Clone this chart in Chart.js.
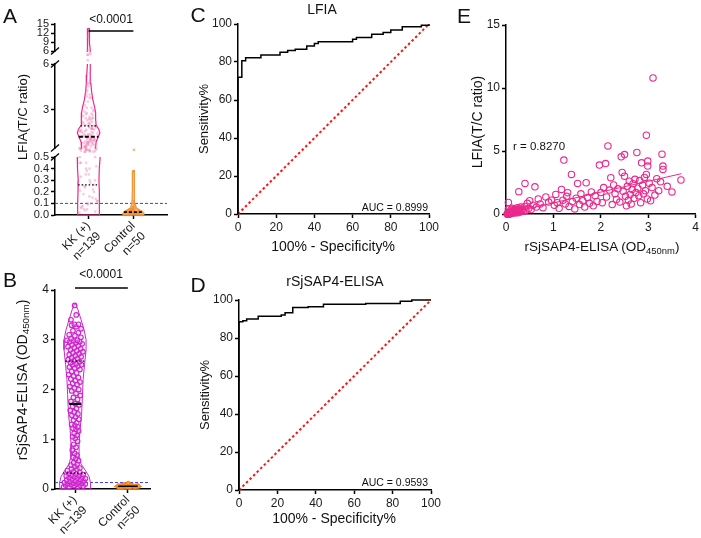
<!DOCTYPE html>
<html>
<head>
<meta charset="utf-8">
<script src="https://cdn.jsdelivr.net/npm/chart.js@4.4.1/dist/chart.umd.min.js"></script>
<style>
  body { margin: 0; background: #fff; font-family: "Liberation Sans", Arial, sans-serif; color: #111; }
  #fig { position: relative; width: 701px; height: 538px; overflow: hidden; background: #fff; }
  #fig canvas { position: absolute; left: 0; top: 0; }
  .c { position: absolute; transform: translate(-50%, -50%); white-space: nowrap; line-height: 1; }
  .v { position: absolute; transform: translate(-50%, -50%) rotate(-90deg); white-space: nowrap; line-height: 1; }
  .r { position: absolute; transform: translate(-100%, -50%); white-space: nowrap; line-height: 1; }
  sub { font-size: 0.7em; vertical-align: -0.25em; line-height: 0; }
</style>
</head>
<body>
<div id="fig">
  <canvas id="aTop" width="701" height="538"></canvas>
  <canvas id="aMid" width="701" height="538"></canvas>
  <canvas id="aLow" width="701" height="538"></canvas>
  <canvas id="bChart" width="701" height="538"></canvas>
  <canvas id="cChart" width="701" height="538"></canvas>
  <canvas id="dChart" width="701" height="538"></canvas>
  <canvas id="eChart" width="701" height="538"></canvas>

  <div class="c" style="left:10px;top:15px;font-size:21px">A</div>
  <div class="c" style="left:10px;top:279px;font-size:21px">B</div>
  <div class="c" style="left:198px;top:14px;font-size:21px">C</div>
  <div class="c" style="left:198px;top:284px;font-size:21px">D</div>
  <div class="c" style="left:464px;top:15px;font-size:21px">E</div>

  <div class="c" style="left:111px;top:19px;font-size:12px">&lt;0.0001</div>
  <div class="c" style="left:101px;top:274px;font-size:12px">&lt;0.0001</div>
  <div class="v" style="left:22px;top:117px;font-size:13px">LFIA(T/C ratio)</div>
  <div class="v" style="left:22px;top:380px;font-size:14px">rSjSAP4-ELISA (OD<sub>450nm</sub>)</div>

  <div class="c" style="left:322px;top:9px;font-size:14px">LFIA</div>
  <div class="v" style="left:203px;top:119px;font-size:13px">Sensitivity%</div>
  <div class="c" style="left:333px;top:246px;font-size:14px">100% - Specificity%</div>
  <div class="r" style="left:428px;top:207px;font-size:10.5px">AUC = 0.8999</div>

  <div class="c" style="left:335px;top:281px;font-size:14px">rSjSAP4-ELISA</div>
  <div class="v" style="left:204px;top:395px;font-size:13px">Sensitivity%</div>
  <div class="c" style="left:334px;top:518px;font-size:14px">100% - Specificity%</div>
  <div class="r" style="left:428px;top:482px;font-size:10.5px">AUC = 0.9593</div>

  <div class="v" style="left:477px;top:122px;font-size:14px">LFIA(T/C ratio)</div>
  <div class="c" style="left:602px;top:247px;font-size:13.5px">rSjSAP4-ELISA (OD<sub>450nm</sub>)</div>
  <div style="position:absolute;left:513px;top:141px;font-size:11.5px;line-height:1;white-space:nowrap">r = 0.8270</div>
</div>

<script>
// ---- data ----
const groups = [['KK (+)', 'n=139'], ['Control', 'n=50']];

// paired values, KK(+) patients (ELISA OD450 / LFIA T/C ratio)
const kkElisa = [
  0.04,0.05,0.05,0.06,0.07,0.08,0.08,0.09,0.10,0.10,0.11,0.12,0.12,0.13,0.14,0.15,0.16,0.17,0.18,0.19,
  0.20,0.21,0.22,0.23,0.24,0.25,0.26,0.27,0.28,0.29,0.30,0.31,0.33,0.35,0.37,
  0.40,0.40,0.42,0.45,0.48,0.50,0.53,0.57,0.61,0.64,0.68,0.72,0.78,0.84,0.90,0.96,
  1.02,1.05,1.08,1.12,1.17,1.20,1.22,1.25,1.28,1.30,1.33,1.38,1.40,1.45,1.48,1.51,1.55,1.58,1.62,1.66,
  1.69,1.72,1.76,1.80,1.84,1.88,1.92,1.97,2.00,2.03,2.06,2.10,2.12,2.15,2.18,2.21,2.24,2.27,2.30,2.33,
  2.36,2.40,2.43,2.45,2.47,2.50,2.50,2.52,2.54,2.56,2.58,2.60,2.62,2.64,2.66,2.68,2.70,2.72,2.74,2.76,
  2.78,2.80,2.82,2.84,2.86,2.88,2.90,2.92,2.94,2.96,2.96,2.98,2.99,2.99,3.02,3.05,3.08,3.10,3.14,3.18,
  3.22,3.26,3.29,3.31,3.31,3.40,3.50,3.69
];
const kkLfia = [
  0.02,0.92,0.05,0.03,0.10,0.06,0.15,0.04,0.12,0.30,0.08,0.20,0.05,0.45,0.10,0.25,0.14,0.35,0.07,0.22,
  0.40,0.12,0.28,0.18,0.50,0.09,0.33,1.77,0.24,0.42,0.16,0.55,0.26,0.38,0.21,
  2.43,0.60,0.30,0.85,0.45,1.05,0.35,0.70,2.16,0.55,1.20,0.80,0.50,1.35,0.95,1.10,
  0.70,1.55,0.90,0.45,1.95,1.10,4.28,0.80,1.40,1.69,0.60,3.14,1.00,0.40,1.25,2.43,0.75,1.60,1.05,0.55,
  2.48,1.30,0.85,1.75,0.65,1.45,1.00,3.88,1.70,0.90,2.10,4.00,1.35,5.40,1.90,2.88,0.75,2.30,1.60,1.15,
  2.00,0.95,4.54,3.30,1.80,4.72,3.00,1.40,0.65,2.20,1.10,2.60,1.55,0.80,1.95,2.40,1.25,2.75,1.70,4.88,
  2.05,1.45,2.65,0.90,4.06,2.30,1.60,2.90,1.85,6.25,3.14,1.20,4.20,3.80,2.45,1.05,2.10,10.8,1.50,2.80,
  1.85,2.55,4.75,3.80,3.54,2.20,1.75,2.70
];
// paired values, controls
const ctrlElisa = [
  0.03,0.04,0.05,0.05,0.06,0.04,0.07,0.05,0.06,0.08,0.03,0.05,0.06,0.04,0.07,0.09,0.05,0.06,0.04,0.05,
  0.06,0.07,0.05,0.08,0.04,0.06,0.05,0.10,0.05,0.06,0.04,0.07,0.05,0.06,0.03,0.05,0.08,0.06,0.04,0.05,
  0.07,0.06,0.05,0.04,0.09,0.06,0.05,0.07,0.12,0.06
];
const ctrlLfia = [
  0.01,0.02,0.00,0.03,0.01,0.05,0.02,0.04,0.00,0.03,0.02,0.06,0.01,0.03,0.02,0.04,0.38,0.01,0.05,0.02,
  0.03,0.00,0.04,0.02,0.01,0.06,0.03,0.08,0.02,0.04,0.01,0.03,0.02,0.05,0.00,0.12,0.02,0.03,0.01,0.04,
  0.02,0.07,0.03,0.01,0.05,0.02,0.04,0.03,0.10,0.02
];

// violin outlines (relative density at each level)
const aKkLowLevels  = [0, 0.1, 0.2, 0.3, 0.4, 0.5, 0.6];
const aKkLowDens    = [0.95, 0.95, 0.92, 0.90, 0.93, 1.0, 1.0];
const aKkHighLevels = [0.4, 0.5, 0.9, 1.2, 1.5, 1.75, 2.0, 2.4, 2.8, 3.2, 3.65, 4.2, 4.7, 5.3, 6, 8, 10, 12, 13.5];
const aKkHighDens   = [0.61, 0.61, 0.65, 0.83, 0.98, 0.87, 0.65, 0.61, 0.61, 0.52, 0.37, 0.26, 0.20, 0.16, 0.13, 0.10, 0.09, 0.08, 0.06];
const aCtrlLevels   = [0, 0.015, 0.03, 0.045, 0.06, 0.1, 0.2, 0.3, 0.38];
const aCtrlDens     = [1.0, 1.0, 0.86, 0.57, 0.29, 0.14, 0.11, 0.10, 0.08];
const bKkLevels     = [0, 0.12, 0.25, 0.38, 0.5, 0.65, 0.9, 1.2, 1.5, 1.9, 2.2, 2.5, 2.8, 3.0, 3.2, 3.4, 3.6, 3.72];
const bKkDens       = [0.97, 1.0, 0.90, 0.65, 0.39, 0.26, 0.26, 0.32, 0.42, 0.48, 0.52, 0.61, 0.71, 0.71, 0.58, 0.39, 0.19, 0.03];
const bCtrlLevels   = [0.015, 0.03, 0.05, 0.07, 0.1, 0.125];
const bCtrlDens     = [0, 0.71, 1.0, 0.86, 0.36, 0];

// quartiles (Q1, median, Q3) and cut-offs
const aKkQuart = [0.26, 1.24, 1.95];
const aCtrlMedian = 0.025;
const bKkQuart = [0.32, 1.71, 2.57];
const bCtrlMedian = 0.055;
const aCutoff = 0.1;
const bCutoff = 0.13;

// tick values
const aTopTicks = [6, 9, 12, 15];
const aMidTicks = [3, 6];
const aLowTicks = [0, 0.1, 0.2, 0.3, 0.4, 0.5];

// ROC curves (100% - specificity, sensitivity)
const rocCSpec = [0, 0, 2, 4, 12, 22, 26, 30, 36, 40, 42, 60, 62, 70, 76, 80, 86, 96, 100];
const rocCSens = [0, 72, 80.6, 82.2, 83.7, 85.1, 86.0, 86.7, 88.4, 89.8, 90.7, 92.0, 92.9, 94.6, 95.5, 96.8, 98.6, 99.3, 100];
const rocDSpec = [0, 0, 2, 4, 10, 22, 24, 28, 36, 44, 66, 84, 90, 100];
const rocDSens = [0, 88.6, 89.1, 90.0, 91.4, 92.1, 93.3, 96.0, 96.5, 97.7, 98.2, 99.4, 100, 100];
const chanceLine = [0, 100];

// linear fit in E
const regX = [0.03, 3.7];
const regY = [0.05, 3.2];

// ---- drawing ----
const W = 701, H = 538;
const PINK = 'rgb(236,40,140)';
const MAGENTA = 'rgb(205,35,205)';
const ORANGE = 'rgb(245,150,55)';
const BLUE = 'rgb(60,60,250)';
Chart.defaults.font.family = '"Liberation Sans", Arial, sans-serif';

function interp(levels, dens, v) {
  if (v <= levels[0]) return dens[0];
  for (let i = 1; i < levels.length; i++) {
    if (v <= levels[i]) {
      const t = (v - levels[i - 1]) / (levels[i] - levels[i - 1]);
      return dens[i - 1] + t * (dens[i] - dens[i - 1]);
    }
  }
  return dens[dens.length - 1];
}

function violin(cx, levels, dens, w) {
  const right = levels.map((y, i) => ({x: cx + dens[i] * w, y}));
  const left = levels.map((y, i) => ({x: cx - dens[i] * w, y})).reverse();
  return right.concat(left, [right[0]]);
}

function swarm(cx, values, halfAt, spread) {
  return values.map((v, i) => {
    const f = ((i * 0.6180339) % 1) * 2 - 1;
    return {x: cx + f * halfAt(v) * spread, y: v};
  });
}

const hline = (y, x0, x1) => [{x: x0, y}, {x: x1, y}];
const pairs = (xs, ys) => xs.map((x, i) => ({x, y: ys[i]}));

function line(data, color, width, dash, more) {
  return Object.assign({data, showLine: true, borderColor: color, borderWidth: width,
    borderDash: dash || [], pointRadius: 0, fill: false, clip: 0}, more || {});
}
function dots(data, more) {
  return Object.assign({data, showLine: false, clip: false}, more);
}

function axis(extra) {
  const base = {
    border: {display: true, color: '#000', width: 1.5},
    grid: {display: true, drawOnChartArea: false, drawTicks: true, tickLength: 4, tickWidth: 1.5, tickColor: '#000'},
    ticks: {color: '#1a1a1a', font: {size: 12}, padding: 2, autoSkip: false, maxRotation: 0}
  };
  return Object.assign({}, base, extra, {
    ticks: Object.assign({}, base.ticks, extra.ticks || {}),
    grid: Object.assign({}, base.grid, extra.grid || {})
  });
}

function panel(id, box, xOpt, yOpt, datasets, plugins) {
  const YW = 40, XH = box.xh || 30;
  const xShown = xOpt.display !== false;
  const x = axis(xOpt), y = axis(yOpt);
  if (xShown) x.afterFit = s => { s.height = XH; };
  y.afterFit = s => { s.width = YW; };
  return new Chart(document.getElementById(id), {
    type: 'scatter',
    data: {datasets},
    options: {
      responsive: false, animation: false, events: [],
      layout: {padding: {left: box.l - YW, right: W - box.r, top: box.t, bottom: H - box.b - (xShown ? XH : 0)}},
      plugins: {legend: {display: false}, tooltip: {enabled: false}},
      scales: {x, y}
    },
    plugins: plugins || []
  });
}

const breakMarks = (top, bottom) => ({
  id: 'breakMarks',
  afterDraw(c) {
    const {ctx, chartArea: a} = c;
    ctx.save();
    ctx.strokeStyle = '#000';
    ctx.lineWidth = 1.3;
    const mark = y => { ctx.beginPath(); ctx.moveTo(a.left - 4, y + 3.5); ctx.lineTo(a.left + 4, y - 3.5); ctx.stroke(); };
    if (top) mark(a.top);
    if (bottom) mark(a.bottom);
    ctx.restore();
  }
});

const sigBar = dy => ({
  id: 'sigBar',
  afterDraw(c) {
    const {ctx, chartArea: a, scales} = c;
    ctx.save();
    ctx.strokeStyle = '#000';
    ctx.lineWidth = 1.5;
    ctx.beginPath();
    ctx.moveTo(scales.x.getPixelForValue(1), a.top + dy);
    ctx.lineTo(scales.x.getPixelForValue(2), a.top + dy);
    ctx.stroke();
    ctx.restore();
  }
});

const catTicks = s => { s.ticks = [{value: 1}, {value: 2}]; };
const catLabel = (v, i) => groups[i];

// ---- panel A: LFIA, broken y axis in three segments ----
const A_MIN = 0.25, A_MAX = 2.75, A_KK_W = 0.257, A_CTRL_W = 0.234;
const aKkHalf = v => (v <= 0.5 ? interp(aKkLowLevels, aKkLowDens, v) : interp(aKkHighLevels, aKkHighDens, v)) * A_KK_W;
const aCtrlHalf = v => interp(aCtrlLevels, aCtrlDens, v) * A_CTRL_W;
const segClip = {left: 10, right: 10, top: 0, bottom: 1};
const aTickFont = {size: 11};

function aSets(seg) {
  const sets = [];
  aKkQuart.forEach((q, i) => {
    const w = aKkHalf(q);
    sets.push(line(hline(q, 1 - w, 1 + w), '#000', i === 1 ? 2 : 1.3, i === 1 ? [4, 2] : [1.5, 2], {clip: segClip}));
  });
  const cw = aCtrlHalf(aCtrlMedian);
  sets.push(line(hline(aCtrlMedian, 2 - cw, 2 + cw), '#000', 1.6, [3, 2], {clip: segClip}));
  sets.push(dots(swarm(1, kkLfia, aKkHalf, 0.85), {pointStyle: 'rect', pointRadius: 1.7, pointBorderWidth: 0, pointBackgroundColor: 'rgba(240,120,175,0.4)'}));
  sets.push(dots(swarm(2, ctrlLfia, aCtrlHalf, 0.8), {pointStyle: 'rect', pointRadius: 1.7, pointBorderWidth: 0, pointBackgroundColor: 'rgba(240,140,50,0.6)'}));
  if (seg === 'low') {
    sets.push(line(violin(1, aKkLowLevels, aKkLowDens, A_KK_W), PINK, 1.2, [], {clip: segClip}));
  } else {
    sets.push(line(violin(1, aKkHighLevels, aKkHighDens, A_KK_W), PINK, 1.2, [], {clip: segClip}));
  }
  sets.push(line(violin(2, aCtrlLevels, aCtrlDens, A_CTRL_W), ORANGE, 1.2, [], {clip: segClip, fill: 'shape', backgroundColor: 'rgba(250,185,120,0.9)'}));
  sets.push(line(hline(aCutoff, A_MIN, A_MAX), BLUE, 1, [3, 2], {clip: segClip}));
  return sets;
}

const aX = {min: A_MIN, max: A_MAX};
panel('aTop', {l: 55, r: 167, t: 24, b: 51},
  Object.assign({display: false}, aX),
  {min: 6, max: 15, afterBuildTicks: s => { s.ticks = aTopTicks.map(value => ({value})); }, ticks: {font: aTickFont}},
  aSets('high'), [breakMarks(false, true), sigBar(7)]);
panel('aMid', {l: 55, r: 167, t: 64, b: 148},
  Object.assign({display: false}, aX),
  {min: 0.5, max: 6, afterBuildTicks: s => { s.ticks = aMidTicks.map(value => ({value})); }, ticks: {font: aTickFont}},
  aSets('high'), [breakMarks(true, true)]);
panel('aLow', {l: 55, r: 167, t: 157, b: 215, xh: 70},
  Object.assign({afterBuildTicks: catTicks, ticks: {callback: catLabel, minRotation: 45, maxRotation: 45, padding: 0}}, aX),
  {min: 0, max: 0.5, afterBuildTicks: s => { s.ticks = aLowTicks.map(value => ({value})); }, ticks: {callback: v => v.toFixed(1), font: aTickFont}},
  aSets('low'), [breakMarks(true, false)]);

// ---- panel B: ELISA ----
const B_MIN = 0.62, B_MAX = 2.42, B_KK_W = 0.294, B_CTRL_W = 0.265;
const bKkHalf = v => interp(bKkLevels, bKkDens, v) * B_KK_W;
const bCtrlHalf = v => interp(bCtrlLevels, bCtrlDens, v) * B_CTRL_W;
const bSets = [];
bKkQuart.forEach((q, i) => {
  const w = bKkHalf(q) * (i === 1 ? 0.85 : 1);
  bSets.push(line(hline(q, 1 - w, 1 + w), '#000', i === 1 ? 2.2 : 1.2, i === 1 ? [] : [1.5, 2]));
});
bSets.push(line(hline(bCtrlMedian, 2 - B_CTRL_W * 0.7, 2 + B_CTRL_W * 0.7), '#000', 1.5, []));
bSets.push(dots(swarm(1, kkElisa, bKkHalf, 0.75), {pointStyle: 'circle', pointRadius: 2.3, pointBorderWidth: 1.1, pointBorderColor: MAGENTA, pointBackgroundColor: 'rgba(240,170,240,0.3)'}));
bSets.push(dots(swarm(2, ctrlElisa, bCtrlHalf, 0.85), {pointStyle: 'circle', pointRadius: 1.8, pointBorderWidth: 1, pointBorderColor: 'rgb(240,130,30)', pointBackgroundColor: 'rgba(250,170,80,0.6)'}));
bSets.push(line(violin(1, bKkLevels, bKkDens, B_KK_W), MAGENTA, 1, [], {clip: false}));
bSets.push(line(violin(2, bCtrlLevels, bCtrlDens, B_CTRL_W), ORANGE, 1, [], {clip: false, fill: 'shape', backgroundColor: 'rgba(250,165,70,0.95)'}));
bSets.push(line(hline(bCutoff, B_MIN, B_MAX), BLUE, 1, [3, 2]));
panel('bChart', {l: 55, r: 150, t: 290, b: 489, xh: 49},
  {min: B_MIN, max: B_MAX, afterBuildTicks: catTicks, ticks: {callback: catLabel, minRotation: 45, maxRotation: 45, padding: 0}},
  {min: 0, max: 4, ticks: {stepSize: 1}},
  bSets, [sigBar(-2)]);

// ---- panels C and D: ROC ----
function rocSets(spec, sens) {
  return [
    line(pairs(spec, sens), '#000', 1.5, [], {stepped: 'before', clip: false}),
    line(pairs(chanceLine, chanceLine), 'rgb(250,20,20)', 2, [2.5, 2.5], {clip: false})
  ];
}
const rocAxis = () => ({min: 0, max: 100, ticks: {stepSize: 20}});
panel('cChart', {l: 238, r: 429, t: 24, b: 214}, rocAxis(), rocAxis(), rocSets(rocCSpec, rocCSens));
panel('dChart', {l: 239, r: 431, t: 300, b: 490}, rocAxis(), rocAxis(), rocSets(rocDSpec, rocDSens));

// ---- panel E: correlation ----
panel('eChart', {l: 506, r: 696, t: 25, b: 214},
  {min: 0, max: 4, ticks: {stepSize: 1}},
  {min: 0, max: 15, ticks: {stepSize: 5}},
  [
    line(pairs(regX, regY), PINK, 1, [], {clip: false}),
    dots(pairs(kkElisa.concat(ctrlElisa), kkLfia.concat(ctrlLfia)),
      {pointStyle: 'circle', pointRadius: 3.2, pointBorderWidth: 1.1, pointBorderColor: PINK, pointBackgroundColor: 'rgba(255,255,255,0)'})
  ]);
</script>
</body>
</html>
